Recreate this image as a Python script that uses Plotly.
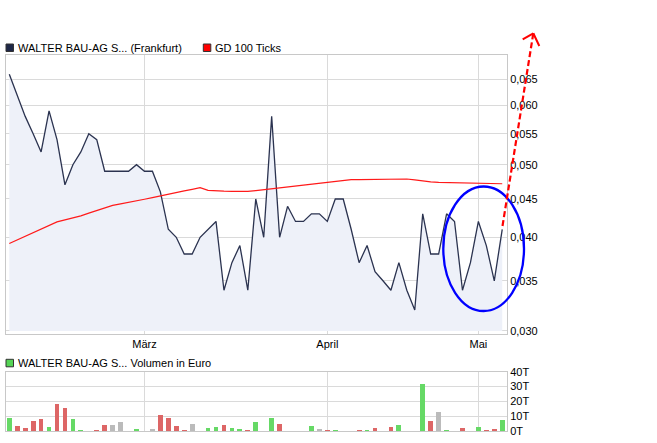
import math
import plotly.graph_objects as go

# ---------------- data ----------------
prices = [0.066, 0.062, 0.058, 0.055, 0.052, 0.059, 0.054, 0.047, 0.050, 0.052,
          0.055, 0.054, 0.049, 0.049, 0.049, 0.049, 0.050, 0.049, 0.049, 0.046,
          0.041, 0.040, 0.038, 0.038, 0.040, 0.041, 0.042, 0.034, 0.037, 0.039,
          0.034, 0.045, 0.040, 0.058, 0.040, 0.044, 0.042, 0.042, 0.043, 0.043,
          0.042, 0.045, 0.045, 0.041, 0.037, 0.039, 0.036, 0.035, 0.034, 0.037,
          0.034, 0.032, 0.043, 0.038, 0.038, 0.043, 0.042, 0.034, 0.037, 0.042,
          0.039, 0.035, 0.041]

gd100 = [0.03924, 0.03969, 0.04012, 0.04055, 0.04105, 0.04156, 0.04194, 0.04220, 0.04243, 0.04272,
         0.04309, 0.04345, 0.04378, 0.04412, 0.04433, 0.04451, 0.04473, 0.04496, 0.04519, 0.04545,
         0.04568, 0.04592, 0.04613, 0.04636, 0.04659, 0.04621, 0.04612, 0.04609, 0.04607, 0.04605,
         0.04607, 0.04618, 0.04631, 0.04642, 0.04655, 0.04668, 0.04681, 0.04693, 0.04707, 0.04719,
         0.04731, 0.04748, 0.04767, 0.04775, 0.04776, 0.04778, 0.04779, 0.04781, 0.04782, 0.04784,
         0.04785, 0.04772, 0.04756, 0.04742, 0.04735, 0.04733, 0.04732, 0.04729, 0.04726, 0.04723,
         0.04720, 0.04719, 0.04716]

volume_t = [8.9, 3.3, 2.2, 6.9, 8.2, 2.7, 18.2, 15.6, 8.0, 0.9,
            0.0, 0.9, 4.0, 4.0, 6.2, 0.0, 1.6, 0.0, 1.6, 10.9,
            8.9, 3.3, 0.9, 4.9, 0.0, 2.2, 2.7, 4.0, 2.2, 1.6,
            0.9, 6.2, 0.0, 8.9, 4.9, 0.0, 0.0, 0.0, 3.3, 1.3,
            0.7, 0.7, 0.0, 0.0, 0.7, 0.7, 2.0, 0.0, 2.7, 4.0,
            0.0, 0.0, 32.2, 6.9, 12.9, 0.7, 0.0, 2.0, 0.0, 2.7,
            0.7, 1.3, 7.3]

month_pos = [17, 40, 59]
month_labels = ["März", "April", "Mai"]
price_ticks = [0.030, 0.035, 0.040, 0.045, 0.050, 0.055, 0.060, 0.065]
volume_ticks = [0, 10, 20, 30, 40]
volume_labels = ["0T", "10T", "20T", "30T", "40T"]

series_name = "WALTER BAU-AG S... (Frankfurt)"
ma_name = "GD 100 Ticks"
vol_name = "WALTER BAU-AG S... Volumen in Euro"

# ---------------- styling ----------------
W, H = 657, 443
FONT = "Liberation Sans, Arial, sans-serif"
NAVY = "#2b3350"
FILL = "#eef1f9"
GRID = "#dadada"
BORDER = "#c8c8c8"
GREEN = "#66d966"
RED = "#dd6666"
GREY = "#bbbbbb"


def px(xp):
    return xp / W


def py(yp):
    return 1 - yp / H


n = len(prices)
x = list(range(n))

bar_colors = []
for i, p in enumerate(prices):
    if i == 0 or p > prices[i - 1]:
        bar_colors.append(GREEN)
    elif p < prices[i - 1]:
        bar_colors.append(RED)
    else:
        bar_colors.append(GREY)

fig = go.Figure()
fig.add_trace(go.Scatter(x=x, y=[price_ticks[0]] * n, mode="lines",
                         line=dict(width=0, color=FILL), hoverinfo="skip",
                         showlegend=False, xaxis="x", yaxis="y"))
fig.add_trace(go.Scatter(x=x, y=prices, mode="lines", name=series_name,
                         line=dict(color=NAVY, width=1.3), fill="tonexty",
                         fillcolor=FILL, showlegend=False, xaxis="x", yaxis="y"))
fig.add_trace(go.Scatter(x=x, y=gd100, mode="lines", name=ma_name,
                         line=dict(color="#ff1a1a", width=1.2),
                         showlegend=False, xaxis="x", yaxis="y"))
fig.add_trace(go.Bar(x=x, y=volume_t, name=vol_name, width=0.6,
                     marker=dict(color=bar_colors, line=dict(width=0)),
                     showlegend=False, xaxis="x2", yaxis="y2"))

xdom = [px(6), px(507)]
xrange = [-0.415, 62.6]

axis_common = dict(showgrid=True, gridcolor=GRID, gridwidth=1, showline=True,
                   mirror=True, linecolor=BORDER, linewidth=1, zeroline=False,
                   automargin=False, ticks="",
                   tickfont=dict(family=FONT, size=11, color="#000000"))

fig.update_layout(
    template="none",
    width=W, height=H, autosize=False,
    margin=dict(l=0, r=0, t=0, b=0, pad=0, autoexpand=False),
    paper_bgcolor="white", plot_bgcolor="white",
    separators=",.",
    font=dict(family=FONT, size=11, color="#000000"),
    showlegend=False,
    bargap=0,
    xaxis=dict(domain=xdom, range=xrange, anchor="y", tickmode="array",
               tickvals=month_pos, ticktext=month_labels, **axis_common),
    yaxis=dict(domain=[py(334), py(55)], type="log",
               range=[math.log10(0.02972), math.log10(0.07004)],
               side="right", anchor="x", tickmode="array", tickvals=price_ticks,
               tickformat=".3f", **axis_common),
    xaxis2=dict(domain=xdom, range=xrange, anchor="y2", tickmode="array",
                tickvals=month_pos, showticklabels=False, **axis_common),
    yaxis2=dict(domain=[py(431), py(371.7)], range=[0, 40], side="right",
                anchor="x2", tickmode="array", tickvals=volume_ticks,
                ticktext=volume_labels, **axis_common),
)

# legend-like labels
legend_items = [
    (6, 44, "#1e2747", series_name, 15.5, 47.7),
    (203.3, 44, "#ff0000", ma_name, 213, 47.7),
    (6, 359.3, "#55d455", vol_name, 15.5, 363),
]
for sx, sy, col, text, tx, ty in legend_items:
    fig.add_shape(type="rect", xref="paper", yref="paper",
                  x0=px(sx), x1=px(sx + 7.5), y0=py(sy + 7.5), y1=py(sy),
                  fillcolor=col, line=dict(color="#333333", width=1))
    fig.add_annotation(xref="paper", yref="paper", x=px(tx), y=py(ty),
                       xanchor="left", yanchor="middle", text=text,
                       showarrow=False, font=dict(family=FONT, size=11, color="#000000"))

# hand-drawn highlight: blue ellipse and red dashed arrow
fig.add_shape(type="circle", xref="paper", yref="paper",
              x0=px(443.3), x1=px(524), y0=py(311), y1=py(186.5),
              line=dict(color="#0000ff", width=2.3))
fig.add_shape(type="line", xref="paper", yref="paper",
              x0=px(502.5), y0=py(226), x1=px(533.3), y1=py(33.3),
              line=dict(color="#ff0000", width=2.2, dash="6px,3px"))
for hx, hy in [(522.7, 39.3), (539.3, 46)]:
    fig.add_shape(type="line", xref="paper", yref="paper",
                  x0=px(533.3), y0=py(33.3), x1=px(hx), y1=py(hy),
                  line=dict(color="#ff0000", width=2))

post = ("document.documentElement.style.margin='0';"
        "document.documentElement.style.overflow='hidden';"
        "document.body.style.margin='0';document.body.style.padding='0';"
        "document.body.style.overflow='hidden';"
        "var gd=document.getElementById('{plot_id}');"
        "gd.style.position='fixed';gd.style.top='0px';gd.style.left='0px';")

fig.write_html("out.html", config={"displayModeBar": False}, post_script=post)
